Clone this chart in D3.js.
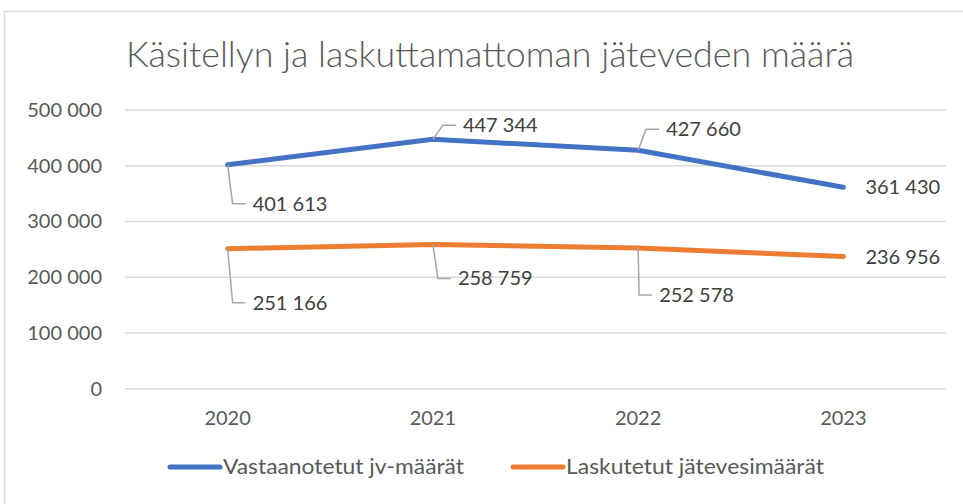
<!DOCTYPE html>
<meta charset="utf-8">
<style>
body { margin: 0; background: #fff; }
svg { font-family: Lato, "Open Sans", sans-serif; }
.grid line { stroke: #d9d9d9; stroke-width: 1.5px; }
.lbl { fill: #404040; font-size: 20px; }
.tick { fill: #595959; font-size: 20px; }
.leader { fill: none; stroke: #a6a6a6; stroke-width: 1.5px; }
</style>
<body>
<script src="https://d3js.org/d3.v7.min.js"></script>
<script>
// data
const years = ["2020", "2021", "2022", "2023"];
const received = [401613, 447344, 427660, 361430];
const billed = [251166, 258759, 252578, 236956];
const seriesNames = ["Vastaanotetut jv-määrät", "Laskutetut jätevesimäärät"];
const colors = ["#4472c4", "#ed7d31"];
const yTicks = [0, 100000, 200000, 300000, 400000, 500000];
const title = "Käsitellyn ja laskuttamattoman jäteveden määrä";

// label placement: leader kind, dx, dy from point
const recvPos = [["down", 5, 39], ["up", 10, -14], ["up", 8, -21], ["right", 0, 0]];
const billPos = [["down", 5, 54], ["down", 5, 34], ["down", 1, 47], ["right", 0, 0]];

const W = 963, H = 504;
const svg = d3.select("body").append("svg").attr("width", W).attr("height", H);

// chart border
svg.append("rect").attr("x", 4.5).attr("y", 11.5).attr("width", 980).attr("height", 520)
  .attr("fill", "none").attr("stroke", "#d9d9d9").attr("stroke-width", 1.5);

svg.append("text").attr("x", 126).attr("y", 67)
  .attr("textLength", 728).attr("lengthAdjust", "spacingAndGlyphs")
  .attr("fill", "#595959").style("font-size", "35px").style("font-weight", 300)
  .text(title);

const x = d3.scalePoint().domain(years).range([125, 946]).padding(0.5);
const y = d3.scaleLinear().domain([0, 500000]).range([388.7, 110]);

const fmt = v => d3.format(",")(v).replace(/,/g, " ");

// gridlines
svg.append("g").attr("class", "grid").selectAll("line").data(yTicks).join("line")
  .attr("x1", 125).attr("x2", 946)
  .attr("y1", d => y(d)).attr("y2", d => y(d));

// y labels
svg.append("g").selectAll("text").data(yTicks).join("text")
  .attr("class", "tick").attr("x", 102).attr("y", d => y(d)).attr("dy", "0.35em")
  .attr("text-anchor", "end").text(fmt);

// x labels
svg.append("g").selectAll("text").data(years).join("text")
  .attr("class", "tick").attr("x", d => x(d)).attr("y", 418).attr("dy", "0.35em")
  .attr("text-anchor", "middle").text(d => d);

const line = d3.line().x((d, i) => x(years[i])).y(d => y(d));

function drawSeries(vals, color, pos) {
  const g = svg.append("g");
  g.append("path").datum(vals).attr("d", line).attr("fill", "none")
    .attr("stroke", color).attr("stroke-width", 5)
    .attr("stroke-linecap", "round").attr("stroke-linejoin", "round");
  vals.forEach((v, i) => {
    const px = x(years[i]), py = y(v);
    const [kind, dx, dy] = pos[i];
    if (kind === "right") {
      g.append("text").attr("class", "lbl").attr("x", px + 22).attr("y", py)
        .attr("dy", "0.35em").text(fmt(v));
      return;
    }
    const ex = px + dx, ey = py + dy;
    g.append("path").attr("class", "leader")
      .attr("d", `M${px},${py}L${ex},${ey}L${ex + 13},${ey}`);
    g.append("text").attr("class", "lbl").attr("x", ex + 20).attr("y", ey)
      .attr("dy", "0.35em").text(fmt(v));
  });
}
drawSeries(received, colors[0], recvPos);
drawSeries(billed, colors[1], billPos);

// legend
const legX = [167, 510];
const legW = [241, 258];
seriesNames.forEach((n, i) => {
  svg.append("line").attr("x1", legX[i] + 3).attr("x2", legX[i] + 53)
    .attr("y1", 467).attr("y2", 467).attr("stroke", colors[i])
    .attr("stroke-width", 5).attr("stroke-linecap", "round");
  svg.append("text").attr("class", "tick").attr("x", legX[i] + 56).attr("y", 467)
    .attr("dy", "0.35em").style("font-size", "21px")
    .attr("textLength", legW[i]).attr("lengthAdjust", "spacingAndGlyphs").text(n);
});
</script>
</body>
